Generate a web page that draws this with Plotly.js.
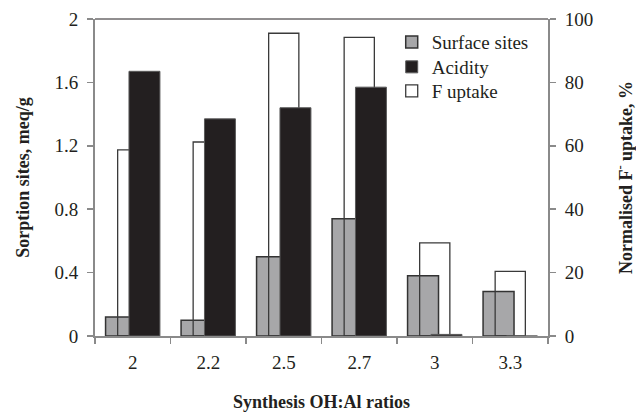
<!DOCTYPE html>
<html>
<head>
<meta charset="utf-8">
<script src="https://cdn.plot.ly/plotly-3.0.1.min.js"></script>
<style>html,body{margin:0;padding:0;background:#fff;}#chart{width:636px;height:412px;}</style>
</head>
<body>
<div id="chart"></div>
<script>
var categories = ['2', '2.2', '2.5', '2.7', '3', '3.3'];
var surfaceSites = [0.12, 0.10, 0.50, 0.74, 0.38, 0.28];
var acidity = [1.67, 1.37, 1.44, 1.57, 0.01, 0];
var fUptake = [58.7, 61.2, 95.5, 94.2, 29.4, 20.4];
var leftTicks = [0, 0.4, 0.8, 1.2, 1.6, 2];
var leftTickText = ['0', '0.4', '0.8', '1.2', '1.6', '2'];
var rightTicks = [0, 20, 40, 60, 80, 100];

var font = 'Liberation Serif';
var axisGray = '#8a8a8a';
var textColor = '#231f20';

var traces = [
  {
    type: 'bar', name: 'Surface sites', x: categories, y: surfaceSites,
    xaxis: 'x', yaxis: 'y', offset: -0.36, width: 0.41,
    marker: {color: '#a7a7a9', line: {color: '#333333', width: 1.5}},
    legend: 'legend'
  },
  {
    type: 'bar', name: 'F uptake', x: categories, y: fUptake,
    xaxis: 'x', yaxis: 'y2', offset: -0.2, width: 0.4,
    marker: {color: 'rgba(255,255,255,0)', line: {color: '#3a3a3a', width: 1.3}},
    legend: 'legend3'
  },
  {
    type: 'bar', name: 'Acidity', x: categories, y: acidity,
    xaxis: 'x', yaxis: 'y3', offset: -0.05, width: 0.41,
    marker: {color: '#231f20', line: {color: '#5a5a5a', width: 1}},
    legend: 'legend2'
  }
];

function legendAt(y) {
  return {
    x: 0.655, y: y, xanchor: 'left', yanchor: 'top',
    bgcolor: 'rgba(0,0,0,0)', borderwidth: 0,
    font: {family: font, size: 19, color: textColor},
    itemwidth: 30
  };
}

var layout = {
  width: 636, height: 412,
  margin: {l: 95, r: 88, t: 19, b: 76},
  paper_bgcolor: '#ffffff', plot_bgcolor: '#ffffff',
  font: {family: font, size: 19, color: textColor},
  barmode: 'overlay',
  showlegend: true,
  legend: legendAt(0.987),
  legend2: legendAt(0.9085),
  legend3: legendAt(0.833),
  xaxis: {
    type: 'category', range: [-0.5, 5.5],
    showline: true, linecolor: axisGray, linewidth: 2,
    ticks: 'outside', tickson: 'boundaries', ticklen: 6, tickcolor: axisGray, tickwidth: 1.5,
    ticklabelstandoff: 8,
    showgrid: false, zeroline: false,
    tickfont: {family: font, size: 19, color: textColor},
    title: {text: '<b>Synthesis OH:Al ratios</b>', font: {family: font, size: 18, color: textColor}, standoff: 36}
  },
  yaxis: {
    range: [0, 2], tickvals: leftTicks, ticktext: leftTickText,
    showline: true, linecolor: axisGray, linewidth: 2,
    ticks: 'outside', ticklen: 6, tickcolor: axisGray, tickwidth: 1.5,
    ticklabelstandoff: 5,
    showgrid: false, zeroline: false,
    tickfont: {family: font, size: 19, color: textColor},
    title: {text: '<b>Sorption sites, meq/g</b>', font: {family: font, size: 18, color: textColor}, standoff: 20}
  },
  yaxis2: {
    range: [0, 100], tickvals: rightTicks, overlaying: 'y', side: 'right',
    showline: true, linecolor: axisGray, linewidth: 2,
    ticks: 'outside', ticklen: 6, tickcolor: axisGray, tickwidth: 1.5,
    ticklabelstandoff: 5,
    showgrid: false, zeroline: false,
    tickfont: {family: font, size: 19, color: textColor},
    title: {text: '<b>Normalised F<sup>-</sup> uptake, %</b>', font: {family: font, size: 18, color: textColor}, standoff: 28}
  },
  yaxis3: {
    range: [0, 2], overlaying: 'y', visible: false, showgrid: false, zeroline: false
  },
  shapes: [
    {type: 'line', xref: 'paper', yref: 'paper', x0: 0, x1: 1, y0: 1, y1: 1, line: {color: '#231f20', width: 1}}
  ]
};

Plotly.newPlot('chart', traces, layout, {displayModeBar: false, staticPlot: true});
</script>
</body>
</html>
